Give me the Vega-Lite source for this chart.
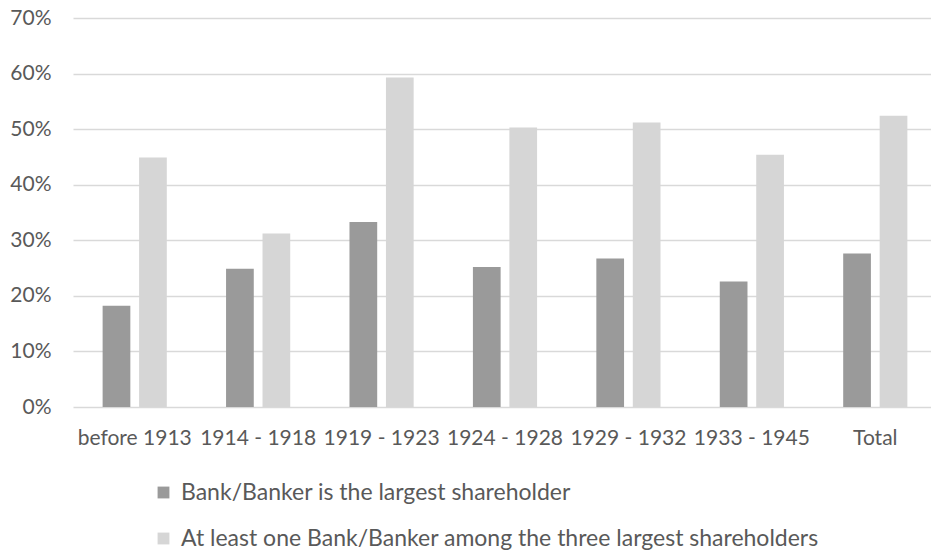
{
  "$schema": "https://vega.github.io/schema/vega-lite/v6.json",
  "width": 864,
  "height": 389,
  "autosize": {"type": "none"},
  "padding": {"left": 73, "top": 18, "right": 0, "bottom": 145},
  "background": "white",
  "config": {
    "view": {"stroke": null},
    "font": "Lato",
    "axis": {"labelFont": "Lato", "labelColor": "#595959", "labelFontSize": 21}
  },
  "data": {
    "values": [
      {"period": "before 1913", "series": "Bank/Banker is the largest shareholder", "value": 0.182},
      {"period": "before 1913", "series": "At least one Bank/Banker among the three largest shareholders", "value": 0.449},
      {"period": "1914 - 1918", "series": "Bank/Banker is the largest shareholder", "value": 0.249},
      {"period": "1914 - 1918", "series": "At least one Bank/Banker among the three largest shareholders", "value": 0.312},
      {"period": "1919 - 1923", "series": "Bank/Banker is the largest shareholder", "value": 0.333},
      {"period": "1919 - 1923", "series": "At least one Bank/Banker among the three largest shareholders", "value": 0.593},
      {"period": "1924 - 1928", "series": "Bank/Banker is the largest shareholder", "value": 0.252},
      {"period": "1924 - 1928", "series": "At least one Bank/Banker among the three largest shareholders", "value": 0.503},
      {"period": "1929 - 1932", "series": "Bank/Banker is the largest shareholder", "value": 0.267},
      {"period": "1929 - 1932", "series": "At least one Bank/Banker among the three largest shareholders", "value": 0.512},
      {"period": "1933 - 1945", "series": "Bank/Banker is the largest shareholder", "value": 0.226},
      {"period": "1933 - 1945", "series": "At least one Bank/Banker among the three largest shareholders", "value": 0.454},
      {"period": "Total", "series": "Bank/Banker is the largest shareholder", "value": 0.276},
      {"period": "Total", "series": "At least one Bank/Banker among the three largest shareholders", "value": 0.524}
    ]
  },
  "mark": {"type": "bar"},
  "encoding": {
    "x": {
      "field": "period", "type": "nominal", "sort": null, "title": null,
      "scale": {"paddingInner": 0.48, "paddingOuter": 0.24},
      "axis": {"labelAngle": 0, "domain": false, "ticks": false, "labelPadding": 20, "labelBaseline": "top"}
    },
    "xOffset": {
      "field": "series", "type": "nominal", "sort": null,
      "scale": {"paddingInner": 0.24, "paddingOuter": 0}
    },
    "y": {
      "field": "value", "type": "quantitative", "title": null,
      "scale": {"domain": [0, 0.7], "nice": false},
      "axis": {"format": ".0%", "values": [0, 0.1, 0.2, 0.3, 0.4, 0.5, 0.6, 0.7], "labelOverlap": false, "domain": false, "ticks": false, "labelPadding": 22, "gridColor": "#d9d9d9", "gridWidth": 1.5}
    },
    "color": {
      "field": "series", "type": "nominal", "sort": null, "title": null,
      "scale": {"domain": ["Bank/Banker is the largest shareholder", "At least one Bank/Banker among the three largest shareholders"], "range": ["#9a9a9a", "#d6d6d6"]},
      "legend": {
        "orient": "none", "legendX": 79, "legendY": 463, "direction": "vertical",
        "symbolType": "square", "symbolSize": 140, "symbolStrokeWidth": 0,
        "labelFont": "Lato", "labelFontSize": 23, "labelColor": "#595959", "labelLimit": 800,
        "rowPadding": 22, "labelOffset": 6
      }
    }
  }
}
